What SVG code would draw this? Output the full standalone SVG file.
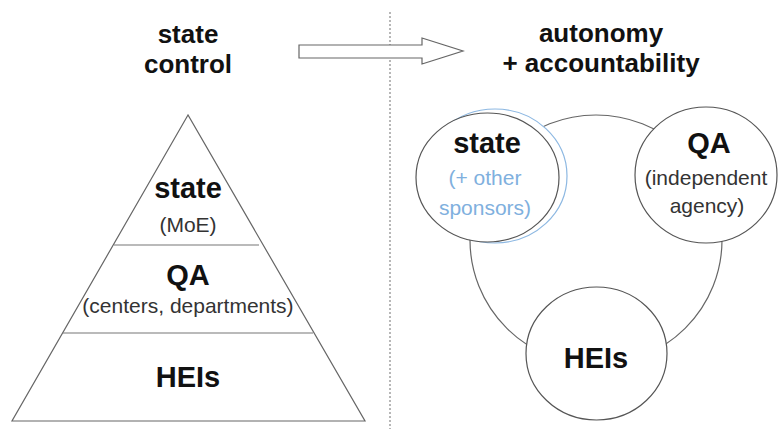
<svg xmlns="http://www.w3.org/2000/svg" width="781" height="429" viewBox="0 0 781 429">
<style>
.b{font-family:"Liberation Sans",Arial,sans-serif;font-weight:bold;fill:#111;text-anchor:middle}
.r{font-family:"Liberation Sans",Arial,sans-serif;fill:#333;text-anchor:middle;font-size:21px}
.ln{fill:none;stroke:#666;stroke-width:1.2}
.nd{fill:#fff;stroke:#555;stroke-width:1.2}
</style>
<rect width="781" height="429" fill="#fff"/>
<line x1="390" y1="12" x2="390" y2="429" stroke="#888" stroke-width="1.2" stroke-dasharray="2,2"/>
<g id="title-left">
<text class="b" x="188" y="43" font-size="26">state</text>
<text class="b" x="188" y="73" font-size="26">control</text>
</g>
<g id="title-right">
<text class="b" x="601" y="42" font-size="26">autonomy</text>
<text class="b" x="601" y="72" font-size="26">+ accountability</text>
</g>
<g id="shift-arrow">
<polygon points="299,45 422,45 422,38 463,51 422,64 422,58 299,58" fill="#fff" stroke="#666" stroke-width="1.2"/>
</g>
<g id="pyramid">
<polygon points="188,115 12,421 365,421" class="ln"/>
<line x1="114" y1="245" x2="259" y2="245" stroke="#777" stroke-width="1.2"/>
<line x1="63" y1="333" x2="313" y2="333" stroke="#777" stroke-width="1.2"/>
</g>
<g id="pyr-state">
<text class="b" x="188" y="198" font-size="29">state</text>
<text class="r" x="188" y="232">(MoE)</text>
</g>
<g id="pyr-qa">
<text class="b" x="188" y="285" font-size="29">QA</text>
<text class="r" x="188" y="313">(centers, departments)</text>
</g>
<g id="pyr-heis">
<text class="b" x="188" y="387" font-size="29">HEIs</text>
</g>
<g id="connectors">
<ellipse cx="596" cy="240" rx="126" ry="125" class="ln"/>
</g>
<g id="node-state">
<ellipse cx="495" cy="176" rx="72" ry="67" fill="#fff" stroke="#8db8e2" stroke-width="1.2"/>
<ellipse cx="487.5" cy="177.5" rx="71.5" ry="64.5" class="nd"/>
<text class="b" x="487" y="153" font-size="29">state</text>
<text class="r" x="485" y="185" style="fill:#7fb0de">(+ other</text>
<text class="r" x="485" y="215" style="fill:#7fb0de">sponsors)</text>
</g>
<g id="node-qa">
<ellipse cx="706" cy="175" rx="71" ry="68" class="nd"/>
<text class="b" x="709" y="153" font-size="29">QA</text>
<text class="r" x="706" y="185">(independent</text>
<text class="r" x="707" y="213">agency)</text>
</g>
<g id="node-heis">
<ellipse cx="596.5" cy="353.5" rx="70.5" ry="66.5" class="nd"/>
<text class="b" x="596" y="368" font-size="29">HEIs</text>
</g>
</svg>
